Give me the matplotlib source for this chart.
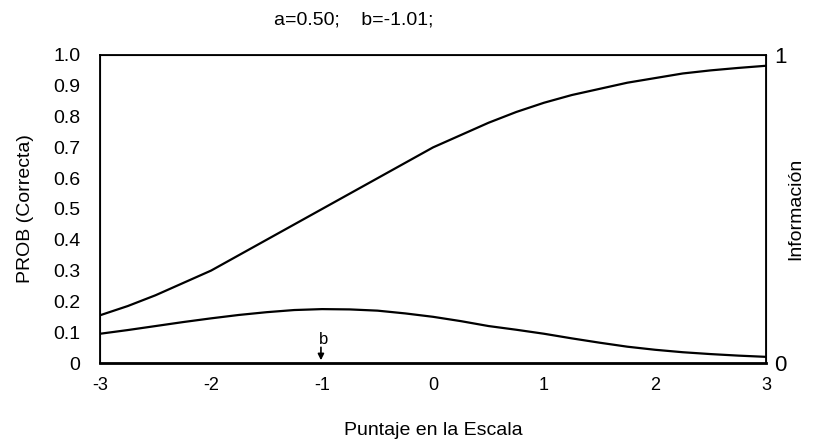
import matplotlib
matplotlib.use('Agg')
import matplotlib.pyplot as plt

plt.rcParams['font.family'] = ['Liberation Sans', 'DejaVu Sans']

# valores
theta = [-3, -2.75, -2.5, -2.25, -2, -1.75, -1.5, -1.25, -1, -0.75, -0.5, -0.25, 0,
         0.25, 0.5, 0.75, 1, 1.25, 1.5, 1.75, 2, 2.25, 2.5, 2.75, 3]
prob = [0.155, 0.185, 0.22, 0.26, 0.30, 0.35, 0.40, 0.45, 0.50, 0.55, 0.60, 0.65, 0.70,
        0.74, 0.78, 0.815, 0.845, 0.87, 0.89, 0.91, 0.925, 0.94, 0.95, 0.958, 0.965]
info = [0.095, 0.107, 0.12, 0.133, 0.145, 0.156, 0.165, 0.172, 0.175, 0.174, 0.17, 0.161, 0.15,
        0.136, 0.12, 0.108, 0.095, 0.08, 0.066, 0.053, 0.043, 0.035, 0.029, 0.024, 0.02]
b_param = -1.01
xticks = [-3, -2, -1, 0, 1, 2, 3]
yticks = [0, 0.1, 0.2, 0.3, 0.4, 0.5, 0.6, 0.7, 0.8, 0.9, 1.0]
ylabels = ['0', '0.1', '0.2', '0.3', '0.4', '0.5', '0.6', '0.7', '0.8', '0.9', '1.0']

fig = plt.figure(figsize=(8.14, 4.42), dpi=100)
ax = fig.add_axes([0.1229, 0.1787, 0.8182, 0.6969])
ax.plot(theta, prob, color='black', lw=1.6)
ax.set_xlim(-3, 3)
ax.set_ylim(0, 1)
ax.set_xticks(xticks)
ax.set_xticklabels([str(t) for t in xticks], fontsize=13)
ax.set_yticks(yticks)
ax.set_yticklabels(ylabels, fontsize=14)
ax.tick_params(axis='y', length=0, pad=14)
ax.tick_params(axis='x', length=0, pad=10)
for s in ax.spines.values():
    s.set_linewidth(1.3)
ax.spines['bottom'].set_linewidth(2)
ax.set_ylabel('PROB (Correcta)', fontsize=14, labelpad=14)
ax.set_xlabel('Puntaje en la Escala', fontsize=14, labelpad=20)

ax2 = ax.twinx()
ax2.plot(theta, info, color='black', lw=1.6)
ax2.set_ylim(0, 1)
ax2.set_yticks([0, 1])
ax2.set_yticklabels(['0', '1'], fontsize=16)
ax2.tick_params(length=0, pad=6)
ax2.set_ylabel('Información', fontsize=14, labelpad=0)

# marca del parametro b
ax.annotate('', xy=(b_param, 0), xytext=(b_param, 0.06),
            arrowprops=dict(arrowstyle='-|>', color='black', lw=1.2, mutation_scale=9))
ax.text(b_param - 0.02, 0.075, 'b', fontsize=12, ha='left', va='center')

fig.text(0.435, 0.955, 'a=0.50;    b=-1.01;', fontsize=14, ha='center', va='center')

fig.savefig('out.png', dpi=100)
